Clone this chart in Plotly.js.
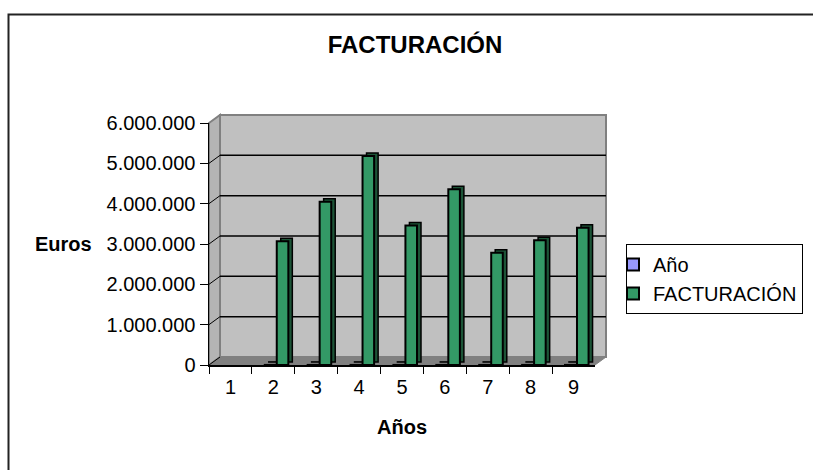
<!DOCTYPE html>
<html>
<head>
<meta charset="utf-8">
<script src="https://cdn.plot.ly/plotly-3.0.1.min.js"></script>
<style>
  html, body { margin: 0; padding: 0; background: #ffffff; }
  #chart { width: 813px; height: 470px; }
</style>
</head>
<body>
<div id="chart"></div>
<script>
// ---- data ----
const categories = ['1', '2', '3', '4', '5', '6', '7', '8', '9'];
const anoValues = [null, 2001, 2002, 2003, 2004, 2005, 2006, 2007, 2008];
const facturacion = [null, 3070000, 4050000, 5180000, 3460000, 4360000, 2780000, 3090000, 3400000];
const yTickValues = [0, 1000000, 2000000, 3000000, 4000000, 5000000, 6000000];
const seriesNames = ['Año', 'FACTURACIÓN'];

// ---- geometry helpers (page pixels -> paper fractions) ----
const W = 813, H = 470;
const px = x => x / W;
const py = y => 1 - y / H;
const FRONT_L = 209, FRONT_R = 595, FRONT_T = 123, FRONT_B = 365;
const DX = 11, DY = 8; // 3D depth offset (right / up)
const FONT = 'Liberation Sans, Arial, sans-serif';

// bar placement (category units)
const BAR_W = 0.27;
const OFF_ANO = -0.20;
const OFF_FACT = 0.08;
const SIDE_DX = 0.093;
const pxPerUnit = (FRONT_B - FRONT_T) / 6000000;
const SIDE_BASE = 3 / pxPerUnit;

const traces = [
  { type: 'bar', x: categories, y: anoValues, base: SIDE_BASE, offset: OFF_ANO + SIDE_DX, width: BAR_W,
    marker: { color: '#2b2b58', line: { color: '#000', width: 1.5 } }, showlegend: false, hoverinfo: 'skip' },
  { type: 'bar', x: categories, y: facturacion, base: SIDE_BASE, offset: OFF_FACT + SIDE_DX, width: BAR_W,
    marker: { color: '#1c5437', line: { color: '#000', width: 1.5 } }, showlegend: false, hoverinfo: 'skip' },
  { type: 'bar', name: seriesNames[0], x: categories, y: anoValues, offset: OFF_ANO, width: BAR_W,
    marker: { color: '#9999FF', line: { color: '#000', width: 2 } } },
  { type: 'bar', name: seriesNames[1], x: categories, y: facturacion, offset: OFF_FACT, width: BAR_W,
    marker: { color: '#339966', line: { color: '#000', width: 2 } } }
];

const shapes = [];
// chart area frame
shapes.push({ type: 'rect', xref: 'paper', yref: 'paper', x0: px(8.5), x1: px(830), y0: py(480), y1: py(14.5),
  line: { color: '#222', width: 2 }, fillcolor: 'rgba(0,0,0,0)', layer: 'below' });
// back wall
shapes.push({ type: 'rect', xref: 'paper', yref: 'paper', x0: px(FRONT_L + DX), x1: px(FRONT_R + DX),
  y0: py(FRONT_B - DY), y1: py(FRONT_T - DY), fillcolor: '#C0C0C0', line: { color: '#808080', width: 2 }, layer: 'below' });
// left wall
shapes.push({ type: 'path', xref: 'paper', yref: 'paper',
  path: `M${px(FRONT_L)},${py(FRONT_T)} L${px(FRONT_L + DX)},${py(FRONT_T - DY)} L${px(FRONT_L + DX)},${py(FRONT_B - DY)} L${px(FRONT_L)},${py(FRONT_B)} Z`,
  fillcolor: '#B4B4B4', line: { color: '#808080', width: 2 }, layer: 'below' });
// floor
shapes.push({ type: 'path', xref: 'paper', yref: 'paper',
  path: `M${px(FRONT_L)},${py(FRONT_B)} L${px(FRONT_R)},${py(FRONT_B)} L${px(FRONT_R + DX)},${py(FRONT_B - DY)} L${px(FRONT_L + DX)},${py(FRONT_B - DY)} Z`,
  fillcolor: '#808080', line: { color: '#808080', width: 1 }, layer: 'below' });
// gridlines on back wall + diagonal on left wall, from tick values
yTickValues.forEach(v => {
  if (v > 0) {
    shapes.push({ type: 'line', xref: 'paper', yref: 'y', ysizemode: 'pixel', yanchor: v,
      x0: px(FRONT_L + DX), x1: px(FRONT_R + DX), y0: DY, y1: DY, line: { color: '#000', width: 1.5 }, layer: 'below' });
  }
  shapes.push({ type: 'line', xref: 'paper', yref: 'y', ysizemode: 'pixel', yanchor: v,
    x0: px(FRONT_L), x1: px(FRONT_L + DX), y0: 0, y1: DY, line: { color: '#000', width: 1 }, layer: 'below' });
});

const layout = {
  width: W, height: H,
  margin: { l: 0, r: 0, t: 0, b: 0 },
  paper_bgcolor: '#ffffff',
  plot_bgcolor: 'rgba(0,0,0,0)',
  separators: ',.',
  barmode: 'overlay',
  font: { family: FONT, color: '#000' },
  title: { text: '<b>FACTURACIÓN</b>', font: { family: FONT, size: 24, color: '#000' },
    x: px(415), xanchor: 'center', xref: 'container', y: py(45), yanchor: 'middle', yref: 'container' },
  xaxis: {
    type: 'category', domain: [px(FRONT_L), px(FRONT_R)], range: [-0.5, 8.5],
    showgrid: false, zeroline: false, showline: true, linecolor: '#000', linewidth: 1.5,
    ticks: 'outside', tickson: 'boundaries', ticklen: 7, tickcolor: '#000', tickwidth: 1,
    ticklabelstandoff: 3,
    tickfont: { family: FONT, size: 20, color: '#000' }, fixedrange: true
  },
  yaxis: {
    domain: [py(FRONT_B), py(FRONT_T)], range: [0, 6000000],
    tickvals: yTickValues, tickformat: ',d',
    showgrid: false, zeroline: false, showline: true, linecolor: '#000', linewidth: 1.5,
    ticks: 'outside', ticklen: 8, tickcolor: '#000', tickwidth: 1,
    tickfont: { family: FONT, size: 20, color: '#000' }, fixedrange: true
  },
  legend: {
    x: px(626), y: py(244), xanchor: 'left', yanchor: 'top',
    bgcolor: '#ffffff', bordercolor: '#000', borderwidth: 1,
    font: { family: FONT, size: 20, color: '#000' },
    itemwidth: 30, traceorder: 'normal', indentation: -14
  },
  shapes: shapes,
  annotations: [
    { text: '<b>Euros</b>', xref: 'paper', yref: 'paper', x: px(63), y: py(244), xanchor: 'center', yanchor: 'middle',
      showarrow: false, font: { family: FONT, size: 20, color: '#000' } },
    { text: '<b>Años</b>', xref: 'paper', yref: 'paper', x: px(402), y: py(427), xanchor: 'center', yanchor: 'middle',
      showarrow: false, font: { family: FONT, size: 20, color: '#000' } }
  ],
  showlegend: true
};

Plotly.newPlot('chart', traces, layout, { displayModeBar: false, staticPlot: true });
</script>
</body>
</html>
